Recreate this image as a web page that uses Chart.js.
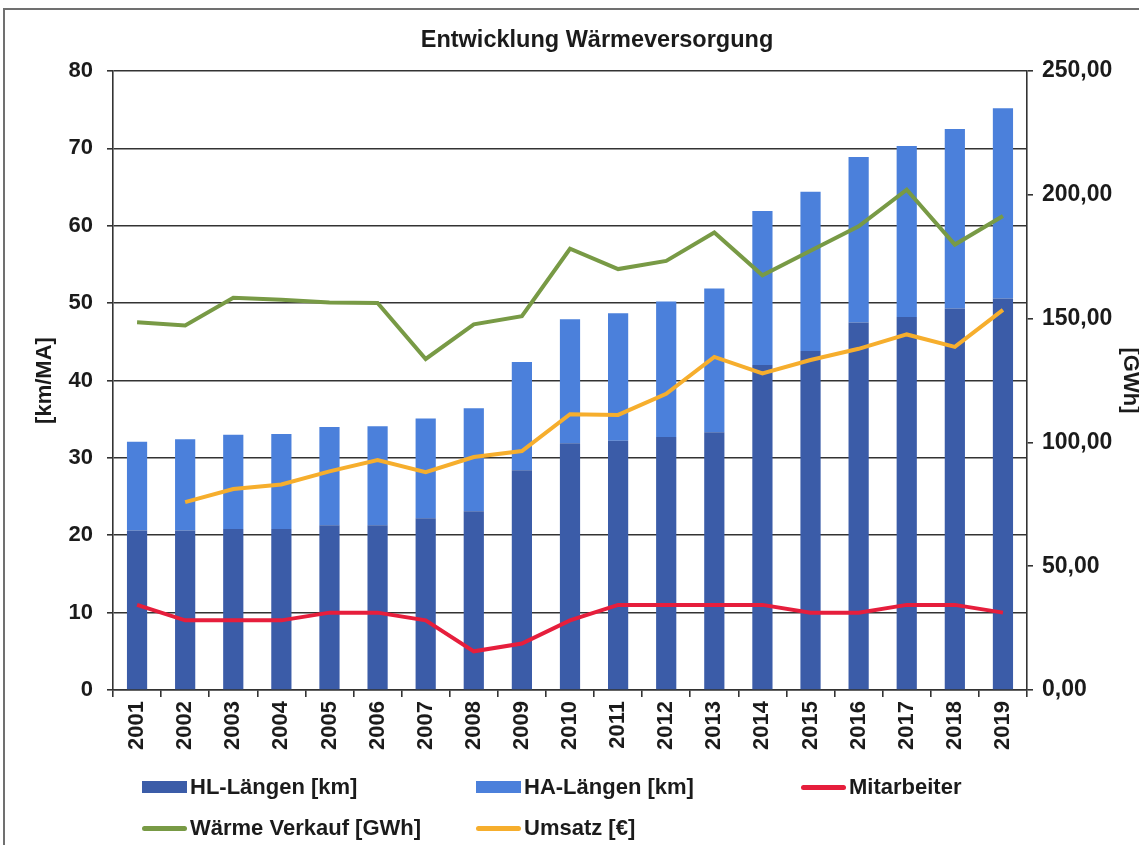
<!DOCTYPE html>
<html>
<head>
<meta charset="utf-8">
<script src="https://cdn.jsdelivr.net/npm/chart.js@4.4.1/dist/chart.umd.min.js"></script>
<style>
body{margin:0;background:#fff;overflow:hidden;width:1139px;height:845px;position:relative;font-family:"Liberation Sans",Arial,sans-serif}
#wrap{position:absolute;left:0;top:0;width:1194px;height:845px}
#frame{position:absolute;left:3px;top:8px;width:1200px;height:900px;border-left:2px solid #707070;border-top:2px solid #707070}
.leg{position:absolute;height:26px;font-weight:bold;font-size:22px;color:#1b1b1b;display:flex;align-items:center;white-space:nowrap}
.sym{display:inline-block;width:45px;margin-right:3px}
.box{height:12px}
.ln{height:5px;border-radius:3px}
</style>
</head>
<body>
<div id="frame"></div>
<div id="wrap"><canvas id="chart" width="1194" height="845"></canvas></div>
<div class="leg" style="left:142px;top:774px"><span class="sym box" style="background:#3b5ca8"></span>HL-Längen [km]</div>
<div class="leg" style="left:476px;top:774px"><span class="sym box" style="background:#4b80db"></span>HA-Längen [km]</div>
<div class="leg" style="left:801px;top:774px"><span class="sym ln" style="background:#e61e3c"></span>Mitarbeiter</div>
<div class="leg" style="left:142px;top:815px"><span class="sym ln" style="background:#789a45"></span>Wärme Verkauf [GWh]</div>
<div class="leg" style="left:476px;top:815px"><span class="sym ln" style="background:#f6ae2d"></span>Umsatz [€]</div>
<script>
// Jahre
var years = ['2001','2002','2003','2004','2005','2006','2007','2008','2009','2010',
             '2011','2012','2013','2014','2015','2016','2017','2018','2019'];
// Leitungslaengen [km] (linke Achse)
var hlLaengen = [20.6,20.6,20.8,20.8,21.3,21.3,22.2,23.1,28.4,31.9,32.2,32.7,33.3,42.0,43.8,47.5,48.2,49.3,50.6];
var haLaengen = [11.5,11.8,12.2,12.3,12.7,12.8,12.9,13.3,14.0,16.0,16.5,17.5,18.6,19.9,20.6,21.4,22.1,23.2,24.6];
// Mitarbeiter (linke Achse)
var mitarbeiter = [11,9,9,9,10,10,9,5,6,9,11,11,11,11,10,10,11,11,10];
// rechte Achse
var waermeVerkauf = [148.5,147.2,158.4,157.6,156.5,156.3,133.7,147.7,151.0,178.2,170.0,173.3,184.8,167.5,177.4,187.3,202.1,179.9,191.4];
var umsatz = [null,75.9,81.2,83.0,88.3,92.9,88.0,94.1,96.5,111.4,111.1,119.6,134.5,127.9,133.3,137.8,143.6,138.6,153.5];
// Achsen
var leftMax = 80, leftStep = 10;
var rightMax = 250, rightStep = 50;

var ink = '#1b1b1b';
var gridCol = '#333333';
var fnt = {family: '"Liberation Sans", Arial, sans-serif', size: 22, weight: 'bold'};

window.onload = function() {
    var ctx = document.getElementById('chart').getContext('2d');
    window.myChart = new Chart(ctx, {
        type: 'bar',
        data: {
            labels: years,
            datasets: [
                {type: 'line', label: 'Mitarbeiter', data: mitarbeiter, yAxisID: 'y',
                 borderColor: '#e61e3c', borderWidth: 4, pointRadius: 0, tension: 0, order: 0},
                {type: 'line', label: 'Umsatz [€]', data: umsatz, yAxisID: 'y1',
                 borderColor: '#f6ae2d', borderWidth: 4, pointRadius: 0, tension: 0, order: 0},
                {type: 'line', label: 'Wärme Verkauf [GWh]', data: waermeVerkauf, yAxisID: 'y1',
                 borderColor: '#789a45', borderWidth: 4, pointRadius: 0, tension: 0, order: 0},
                {label: 'HL-Längen [km]', data: hlLaengen, backgroundColor: '#3b5ca8', stack: 's', yAxisID: 'y', order: 1},
                {label: 'HA-Längen [km]', data: haLaengen, backgroundColor: '#4b80db', stack: 's', yAxisID: 'y', order: 1}
            ]
        },
        options: {
            responsive: false,
            animation: false,
            layout: {padding: {left: 0, right: 0, top: 0, bottom: 75}},
            datasets: {bar: {categoryPercentage: 1, barPercentage: 0.42}},
            plugins: {
                legend: {display: false},
                tooltip: {enabled: false},
                title: {display: true, text: 'Entwicklung Wärmeversorgung', color: ink,
                        font: {family: fnt.family, size: 23.5, weight: 'bold'}, padding: {top: 26, bottom: 16.8}}
            },
            scales: {
                x: {
                    stacked: true,
                    grid: {drawOnChartArea: false, color: gridCol, lineWidth: 1.6, tickLength: 7, offset: true},
                    border: {color: gridCol, width: 1.6},
                    ticks: {color: ink, font: fnt, minRotation: 90, maxRotation: 90, padding: 4, autoSkip: false},
                    afterFit: function(s) { s.height = 80; }
                },
                y: {
                    stacked: true, position: 'left', min: 0, max: leftMax,
                    ticks: {stepSize: leftStep, color: ink, font: fnt, padding: 14},
                    grid: {color: gridCol, lineWidth: 1.6, tickLength: 6},
                    border: {color: gridCol, width: 1.6},
                    title: {display: true, text: '[km/MA]', color: ink, font: fnt, padding: {top: 32, bottom: 0}},
                    afterFit: function(s) { s.width = 113; }
                },
                y1: {
                    position: 'right', min: 0, max: rightMax,
                    ticks: {stepSize: rightStep, color: ink, font: {family: fnt.family, size: 23, weight: 'bold'}, padding: 9,
                            callback: function(v) { return v.toFixed(2).replace('.', ','); }},
                    grid: {drawOnChartArea: false, color: gridCol, lineWidth: 1.6, tickLength: 6},
                    border: {color: gridCol, width: 1.6},
                    title: {display: true, text: '[GWh]', color: ink, font: fnt, padding: {top: 51, bottom: 0}},
                    afterFit: function(s) { s.width = 1194 - 1027; }
                }
            }
        }
    });
};
</script>
</body>
</html>
